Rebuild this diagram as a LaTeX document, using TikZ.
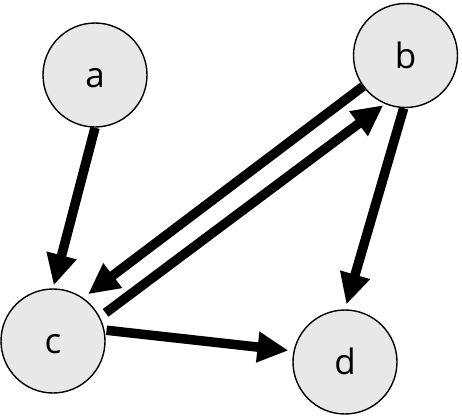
\documentclass[tikz,border=0pt]{standalone}
\usepackage{fontspec}
\setmainfont{Open Sans}
\usetikzlibrary{arrows.meta}
\begin{document}
\begin{tikzpicture}[x=1pt,y=-1pt,
  vert/.style={circle,draw=black,line width=1.4pt,fill=black!9,minimum size=104pt,inner sep=0pt,text height=25pt,text depth=0pt,font=\fontsize{35}{40}\selectfont},
  edge/.style={line width=9.5pt,-{Triangle[length=31pt,width=29pt]}}]
\useasboundingbox (0,0) rectangle (462,415);
\node[vert] (a) at (95,75) {a};
\node[vert] (b) at (405.5,55.5) {b};
\node[vert] (c) at (53,341) {c};
\node[vert] (d) at (345,362) {d};
\draw[edge,shorten >=3pt] (a.south) -- (c.north);
\draw[edge,shorten >=5pt] (b.268) -- (d.north);
\draw[edge,shorten >=6pt] (b.216) -- (c.55.5);
\draw[edge,shorten <=7pt,shorten >=2pt] (c.27) -- (b.247.5);
\draw[edge,shorten <=2pt,shorten >=5pt] (c.12) -- (d.168);
\end{tikzpicture}
\end{document}
